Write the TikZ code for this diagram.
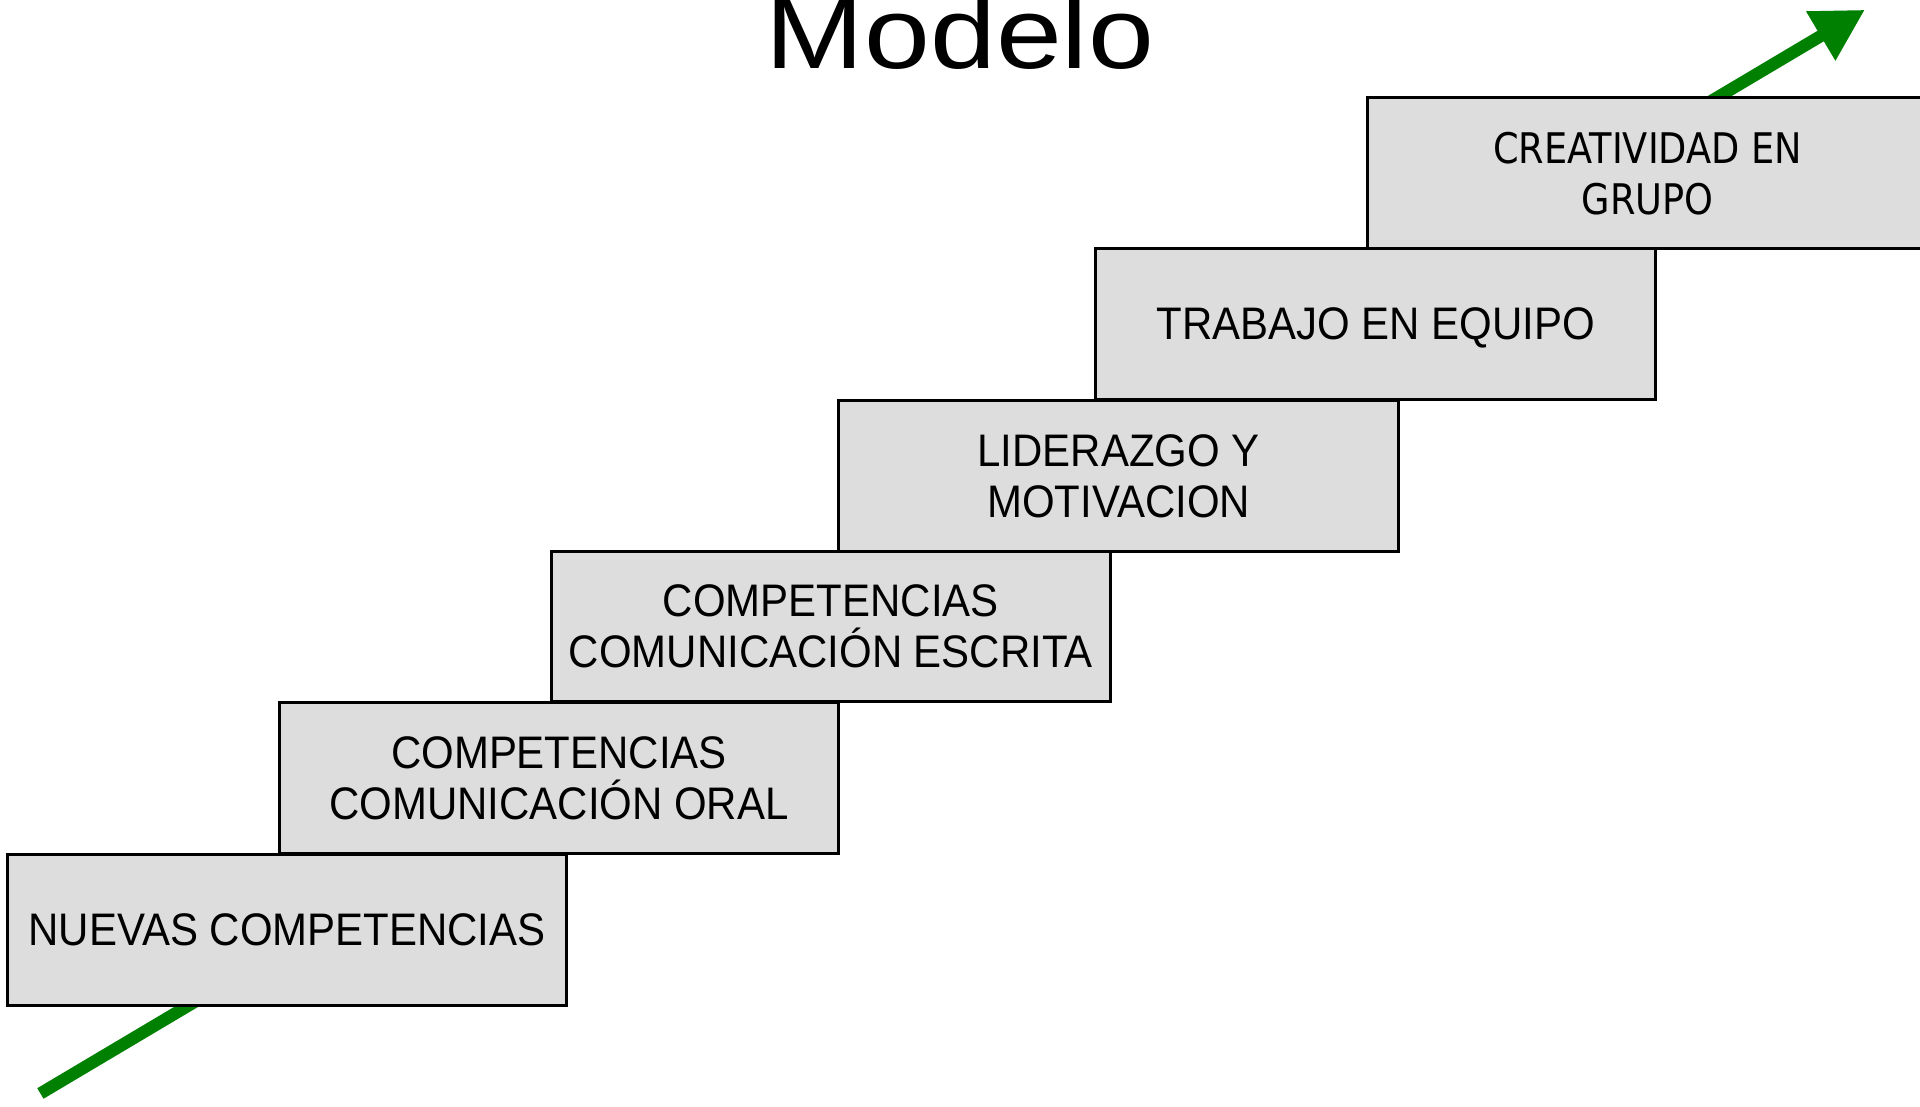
\documentclass[tikz,border=0pt]{standalone}
\usepackage{xcolor}
\definecolor{stepgray}{HTML}{DDDDDD}
\definecolor{arrowgreen}{HTML}{008000}
\usepackage{fontspec}
\setmainfont{Liberation Sans}
\newfontfamily\stepfont[FakeStretch=0.92]{Liberation Sans}
\newfontfamily\titlefont[FakeStretch=1.17]{Liberation Sans}
\newfontfamily\creafont[FakeStretch=0.87]{DejaVu Sans}
\usepackage{tikz}
\usetikzlibrary{arrows.meta}
\usetikzlibrary{positioning}

\begin{document}
\begin{tikzpicture}[line width=0.7pt,
    stepbox/.style={draw=black,fill=stepgray,minimum width=4.57cm,minimum height=1.23cm,
      inner sep=0pt,text depth=0pt,align=center,font=\stepfont\fontsize{10.6pt}{11.8pt}\selectfont}]
          \useasboundingbox (0,0) rectangle (15.68,9.04);
          % arrow behind the steps
          \coordinate (from) at (0.33,0.11);
          \coordinate (to) at (15.23,8.96);
          \draw[arrowgreen,line width=0.1cm,-{Triangle[length=0.42cm,width=0.44cm]}] (from) -- (to);
          \node[anchor=base,font=\titlefont\fontsize{23.5pt}{28pt}\selectfont](title) at (7.84,8.48) {Modelo};
          \begin{scope}[yshift=-0.02cm]
            \node[stepbox](s1) at (2.345,1.465) {NUEVAS COMPETENCIAS};
            \node[stepbox](s2) at (4.565,2.705) {COMPETENCIAS\\COMUNICACIÓN ORAL};
            \node[stepbox](s3) at (6.785,3.945) {COMPETENCIAS\\COMUNICACIÓN ESCRITA};
            \node[stepbox](s4) at (9.135,5.175) {LIDERAZGO Y\\MOTIVACION};
            \node[stepbox](s5) at (11.235,6.415) {TRABAJO EN EQUIPO};
            \node[stepbox,font=\creafont\fontsize{9.8pt}{11.9pt}\selectfont](s6) at (13.455,7.645) {CREATIVIDAD EN\\GRUPO};
          \end{scope}
      \end{tikzpicture}
\end{document}
